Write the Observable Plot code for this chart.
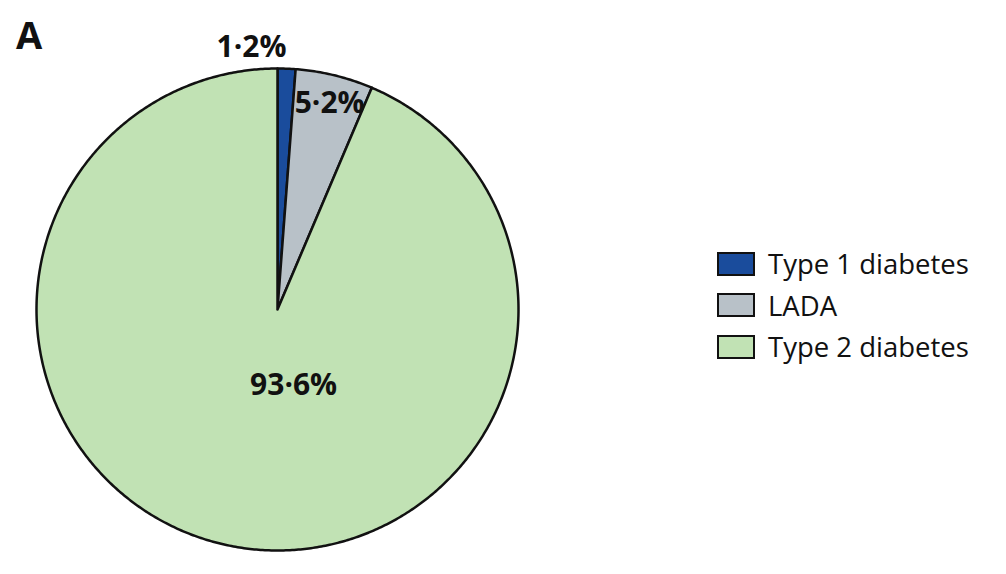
<!DOCTYPE html>
<html>
<head>
<meta charset="utf-8">
<script src="https://cdn.jsdelivr.net/npm/d3@7"></script>
<script src="https://cdn.jsdelivr.net/npm/@observablehq/plot@0.6"></script>
<style>
  html, body { margin: 0; padding: 0; background: #fff; }
  #wrap { position: relative; width: 1006px; height: 574px; font-family: "Open Sans", sans-serif; }
  #panel { position: absolute; left: 16px; top: 8px; font-size: 38px; font-weight: 700; color: #111; }
  #legend { position: absolute; left: 717px; top: 243px; }
  .row { display: flex; align-items: center; height: 41.5px; }
  .sw { width: 34px; height: 20px; border: 2px solid #111; box-sizing: content-box; margin-right: 13px; }
  .lab { font-size: 27.5px; color: #111; }
</style>
</head>
<body>
<div id="wrap">
  <div id="panel">A</div>
  <div id="chart"></div>
  <div id="legend"></div>
</div>
<script>
const categories = ["Type 1 diabetes", "LADA", "Type 2 diabetes"];
const values = [1.2, 5.2, 93.6];
const labels = ["1·2%", "5·2%", "93·6%"];
const colors = ["#1a4c9c", "#b8c1c8", "#c1e2b4"];

// pie geometry from values (angles clockwise from 12 o'clock)
const total = d3.sum(values);
let acc = 0;
const slices = categories.map((c, i) => {
  const a0 = acc / total * 2 * Math.PI;
  acc += values[i];
  const a1 = acc / total * 2 * Math.PI;
  return {category: c, value: values[i], label: labels[i], color: colors[i], a0, a1};
});

const pts = [];
for (const s of slices) {
  pts.push({cat: s.category, x: 0, y: 0});
  const n = Math.max(4, Math.ceil((s.a1 - s.a0) / (Math.PI / 360)));
  for (let k = 0; k <= n; k++) {
    const a = s.a0 + (s.a1 - s.a0) * k / n;
    pts.push({cat: s.category, x: Math.sin(a), y: Math.cos(a)});
  }
  pts.push({cat: s.category, x: 0, y: 0});
}

// label placement: radius factor and pixel nudges per slice
const place = [
  {r: 1.1, dx: -36, dy: 3},
  {r: 0.88, dx: 2, dy: 0},
  {r: 0.33, dx: 32, dy: -2}
];
const labelData = slices.map((s, i) => {
  const m = (s.a0 + s.a1) / 2;
  return {label: s.label, x: Math.sin(m) * place[i].r, y: Math.cos(m) * place[i].r, dx: place[i].dx, dy: place[i].dy};
});

const cx = 277, cy = 309, R = 241;
const chart = Plot.plot({
  width: 1006,
  height: 574,
  margin: 0,
  x: {domain: [-1, 1], range: [cx - R, cx + R], axis: null},
  y: {domain: [-1, 1], range: [cy + R, cy - R], axis: null},
  color: {domain: categories, range: colors},
  marks: [
    Plot.line(pts, {x: "x", y: "y", z: "cat", fill: "cat", stroke: "#111", strokeWidth: 2.5, strokeLinejoin: "round", curve: "linear"}),
    ...labelData.map(d => Plot.text([d], {x: "x", y: "y", text: "label", dx: d.dx, dy: d.dy, fontSize: 30, fontWeight: 700, fill: "#111", fontFamily: "Open Sans"}))
  ]
});
document.getElementById("chart").appendChild(chart);

const leg = document.getElementById("legend");
categories.forEach((c, i) => {
  const row = document.createElement("div");
  row.className = "row";
  const sw = document.createElement("div");
  sw.className = "sw";
  sw.style.background = colors[i];
  const lab = document.createElement("div");
  lab.className = "lab";
  lab.textContent = c;
  row.appendChild(sw); row.appendChild(lab);
  leg.appendChild(row);
});
</script>
</body>
</html>
